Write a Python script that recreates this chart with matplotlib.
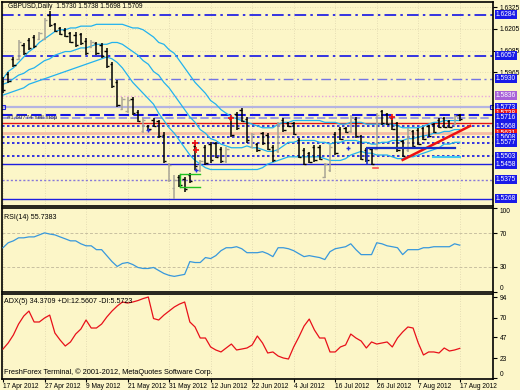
import numpy as np
import matplotlib
matplotlib.use('Agg')
import matplotlib.pyplot as plt
from matplotlib import transforms, font_manager

installed = {f.name for f in font_manager.fontManager.ttflist}
if 'Liberation Sans Narrow' in installed:
    plt.rcParams['font.family'] = ['Liberation Sans Narrow', 'DejaVu Sans']
    fs = 1.0
else:
    plt.rcParams['font.family'] = ['Liberation Sans', 'DejaVu Sans']
    fs = 0.85

# GBPUSD daily, 17 Apr 2012 .. 17 Aug 2012
opens = [1.5920, 1.5955, 1.6040, 1.6040, 1.6118, 1.6145, 1.6160, 1.6150, 1.6150, 1.6280,
         1.6230, 1.6208, 1.6200, 1.6180, 1.6170, 1.6175, 1.6140, 1.6105, 1.6125, 1.6115,
         1.6085, 1.6010, 1.5910, 1.5765, 1.5750, 1.5820, 1.5745, 1.5640, 1.5670, 1.5705,
         1.5695, 1.5620, 1.5370, 1.5330, 1.5390, 1.5380, 1.5400, 1.5560, 1.5425, 1.5555,
         1.5570, 1.5575, 1.5545, 1.5475, 1.5710, 1.5735, 1.5760, 1.5710, 1.5555, 1.5570,
         1.5630, 1.5620, 1.5555, 1.5530, 1.5705, 1.5688, 1.5685, 1.5595, 1.5540, 1.5520,
         1.5555, 1.5555, 1.5390, 1.5430, 1.5625, 1.5655, 1.5658, 1.5640, 1.5710, 1.5612,
         1.5540, 1.5545, 1.5545, 1.5750, 1.5735, 1.5712, 1.5685, 1.5585, 1.5535, 1.5640,
         1.5650, 1.5658, 1.5668, 1.5680, 1.5705, 1.5712, 1.5698, 1.5680, 1.5730]
highs = [1.5940, 1.5967, 1.6050, 1.6143, 1.6127, 1.6154, 1.6171, 1.6187, 1.6264, 1.6301,
         1.6237, 1.6215, 1.6209, 1.6187, 1.6187, 1.6182, 1.6154, 1.6143, 1.6132, 1.6127,
         1.6099, 1.6022, 1.5923, 1.5829, 1.5829, 1.5829, 1.5758, 1.5714, 1.5675, 1.5714,
         1.5703, 1.5637, 1.5466, 1.5400, 1.5400, 1.5389, 1.5411, 1.5582, 1.5483, 1.5565,
         1.5582, 1.5582, 1.5554, 1.5554, 1.5719, 1.5747, 1.5769, 1.5719, 1.5631, 1.5576,
         1.5637, 1.5631, 1.5565, 1.5692, 1.5714, 1.5692, 1.5692, 1.5604, 1.5549, 1.5527,
         1.5565, 1.5565, 1.5466, 1.5565, 1.5637, 1.5664, 1.5664, 1.5730, 1.5719, 1.5620,
         1.5549, 1.5554, 1.5741, 1.5758, 1.5741, 1.5719, 1.5692, 1.5593, 1.5659, 1.5648,
         1.5659, 1.5664, 1.5675, 1.5687, 1.5714, 1.5719, 1.5703, 1.5730, 1.5738]
lows = [1.5851, 1.5906, 1.5995, 1.6033, 1.6061, 1.6088, 1.6099, 1.6143, 1.6143, 1.6215,
        1.6187, 1.6171, 1.6160, 1.6127, 1.6105, 1.6116, 1.6061, 1.6099, 1.6061, 1.6044,
        1.5989, 1.5879, 1.5774, 1.5758, 1.5741, 1.5730, 1.5692, 1.5631, 1.5648, 1.5664,
        1.5604, 1.5466, 1.5361, 1.5268, 1.5334, 1.5306, 1.5356, 1.5427, 1.5416, 1.5455,
        1.5466, 1.5494, 1.5466, 1.5466, 1.5609, 1.5648, 1.5692, 1.5576, 1.5549, 1.5527,
        1.5565, 1.5538, 1.5472, 1.5521, 1.5637, 1.5664, 1.5620, 1.5494, 1.5455, 1.5466,
        1.5472, 1.5483, 1.5383, 1.5416, 1.5510, 1.5593, 1.5631, 1.5631, 1.5604, 1.5483,
        1.5472, 1.5455, 1.5538, 1.5675, 1.5675, 1.5648, 1.5527, 1.5499, 1.5527, 1.5554,
        1.5565, 1.5593, 1.5609, 1.5631, 1.5659, 1.5659, 1.5659, 1.5675, 1.5698]
closes = [1.5868, 1.5915, 1.6005, 1.6130, 1.6070, 1.6100, 1.6110, 1.6180, 1.6255, 1.6225,
          1.6195, 1.6178, 1.6165, 1.6135, 1.6115, 1.6125, 1.6070, 1.6135, 1.6070, 1.6055,
          1.6000, 1.5890, 1.5785, 1.5820, 1.5815, 1.5740, 1.5700, 1.5705, 1.5655, 1.5670,
          1.5612, 1.5475, 1.5455, 1.5375, 1.5345, 1.5320, 1.5365, 1.5450, 1.5475, 1.5465,
          1.5480, 1.5500, 1.5475, 1.5545, 1.5620, 1.5660, 1.5700, 1.5590, 1.5625, 1.5535,
          1.5575, 1.5545, 1.5480, 1.5680, 1.5645, 1.5668, 1.5628, 1.5500, 1.5462, 1.5472,
          1.5480, 1.5490, 1.5460, 1.5555, 1.5520, 1.5600, 1.5636, 1.5720, 1.5612, 1.5490,
          1.5480, 1.5462, 1.5730, 1.5685, 1.5680, 1.5655, 1.5535, 1.5505, 1.5650, 1.5560,
          1.5572, 1.5600, 1.5615, 1.5636, 1.5665, 1.5665, 1.5665, 1.5725, 1.5709]

bb_upper = [1.593, 1.597, 1.599, 1.602, 1.605, 1.608, 1.610, 1.613, 1.615, 1.617,
            1.619, 1.620, 1.620, 1.621, 1.621, 1.622, 1.622, 1.622, 1.623, 1.623,
            1.623, 1.623, 1.623, 1.623, 1.622, 1.621, 1.621, 1.620, 1.618, 1.616,
            1.613, 1.612, 1.609, 1.607, 1.603, 1.599, 1.595, 1.591, 1.588, 1.585,
            1.581, 1.579, 1.576, 1.574, 1.572, 1.571, 1.570, 1.569, 1.568, 1.567,
            1.566, 1.566, 1.566, 1.568, 1.569, 1.569, 1.570, 1.570, 1.570, 1.570,
            1.570, 1.570, 1.569, 1.569, 1.569, 1.568, 1.568, 1.569, 1.569, 1.569,
            1.568, 1.568, 1.568, 1.568, 1.568, 1.568, 1.567, 1.566, 1.566, 1.566,
            1.566, 1.567, 1.568, 1.569, 1.569, 1.570, 1.570, 1.570, 1.570]
bb_middle = [1.590, 1.591, 1.593, 1.595, 1.596, 1.598, 1.599, 1.601, 1.603, 1.604,
             1.606, 1.607, 1.608, 1.608, 1.609, 1.610, 1.610, 1.611, 1.612, 1.612,
             1.612, 1.613, 1.613, 1.612, 1.610, 1.608, 1.606, 1.603, 1.601, 1.597,
             1.595, 1.591, 1.588, 1.584, 1.580, 1.576, 1.572, 1.569, 1.565, 1.563,
             1.560, 1.559, 1.557, 1.556, 1.555, 1.555, 1.555, 1.556, 1.555, 1.555,
             1.554, 1.553, 1.553, 1.554, 1.556, 1.558, 1.558, 1.559, 1.559, 1.559,
             1.559, 1.558, 1.558, 1.557, 1.558, 1.558, 1.559, 1.559, 1.559, 1.558,
             1.558, 1.557, 1.557, 1.558, 1.558, 1.559, 1.559, 1.559, 1.560, 1.560,
             1.561, 1.5615, 1.562, 1.563, 1.563, 1.564, 1.564, 1.565, 1.565]
bb_lower = [1.584, 1.585, 1.586, 1.587, 1.588, 1.590, 1.591, 1.592, 1.593, 1.594,
            1.595, 1.596, 1.597, 1.598, 1.599, 1.600, 1.601, 1.602, 1.603, 1.604,
            1.605, 1.604, 1.602, 1.599, 1.595, 1.591, 1.588, 1.585, 1.582, 1.579,
            1.574, 1.570, 1.566, 1.563, 1.559, 1.555, 1.551, 1.548, 1.546, 1.544,
            1.543, 1.543, 1.543, 1.543, 1.543, 1.543, 1.543, 1.543, 1.543, 1.543,
            1.544, 1.546, 1.547, 1.548, 1.549, 1.550, 1.550, 1.550, 1.550, 1.550,
            1.550, 1.550, 1.549, 1.548, 1.548, 1.548, 1.549, 1.551, 1.552, 1.553,
            1.552, 1.552, 1.551, 1.551, 1.551, 1.550, 1.549, 1.549, 1.550, 1.550,
            1.551, 1.552, 1.553, 1.554, 1.555, 1.557, 1.557, 1.558, 1.558]

rsi = [52.7, 58.6, 60.9, 64.5, 64.5, 65.6, 65.6, 68.0, 70.4, 69.0,
       68.0, 65.6, 63.3, 60.9, 60.9, 57.4, 55.0, 55.0, 50.4, 50.4,
       43.3, 36.2, 30.4, 34.0, 35.1, 32.7, 29.2, 28.0, 28.0, 29.2,
       25.6, 22.1, 19.8, 18.6, 19.8, 21.0, 36.2, 35.1, 35.1, 41.0,
       39.8, 43.3, 49.2, 52.7, 52.7, 53.9, 51.5, 46.8, 46.8, 46.8,
       48.0, 45.6, 42.1, 52.7, 52.7, 51.5, 49.2, 45.6, 42.1, 43.3,
       42.1, 41.0, 38.6, 48.0, 51.5, 52.7, 53.9, 57.4, 50.4, 44.5,
       44.5, 44.5, 58.6, 57.4, 55.0, 53.9, 52.7, 44.5, 50.4, 50.4,
       50.4, 52.7, 52.7, 53.9, 53.9, 53.9, 53.9, 57.4, 55.74]
adx = [33.6, 40.6, 49.9, 62.6, 71.9, 77.7, 65.0, 65.0, 69.6, 73.0,
       52.2, 44.1, 37.1, 41.8, 51.0, 56.8, 67.3, 58.0, 58.0, 62.6,
       70.8, 77.7, 83.5, 88.2, 87.0, 88.2, 89.9, 92.2, 94.0, 69.0,
       67.3, 73.0, 77.7, 82.4, 85.8, 88.2, 65.0, 59.2, 46.4, 46.4,
       36.0, 32.5, 30.2, 34.8, 39.4, 32.5, 33.6, 34.8, 38.3, 48.7,
       40.6, 29.0, 30.2, 25.5, 23.2, 22.0, 36.0, 47.6, 60.3, 68.4,
       55.7, 46.4, 46.4, 30.2, 30.2, 36.0, 38.3, 51.0, 46.4, 42.9,
       34.8, 41.8, 39.4, 40.6, 41.8, 36.0, 46.4, 53.4, 59.2, 58.0,
       40.6, 26.7, 30.2, 30.2, 29.0, 34.8, 31.3, 32.5, 34.37]

date_pos = [0, 8, 16, 24, 32, 40, 48, 56, 64, 72, 80, 88]
date_labels = ['17 Apr 2012', '27 Apr 2012', '9 May 2012', '21 May 2012', '31 May 2012',
               '12 Jun 2012', '22 Jun 2012', '4 Jul 2012', '16 Jul 2012', '26 Jul 2012',
               '7 Aug 2012', '17 Aug 2012']

# horizontal levels drawn on the chart
level_prices = [1.6284, 1.6057, 1.5930, 1.5836, 1.5773, 1.5733, 1.5716, 1.5687,
                1.5668, 1.5631, 1.5608, 1.5577, 1.5503, 1.5458, 1.5375, 1.5268]
level_styles = [('#1414e6', (0, (7, 2.5, 1.5, 2.5)), 1.2),
                ('#1414e6', (0, (7, 2.5, 1.5, 2.5)), 1.2),
                ('#7474e4', (0, (7, 2.5, 1.5, 2.5)), 1.0),
                ('#e8a8dc', (0, (1, 1.5)), 1.0),
                ('#b4b4e2', '-', 1.6),
                ('#1414e6', (0, (5, 2)), 1.5),
                ('#8c8ce6', (0, (5, 2)), 1.2),
                ('#e01414', '-', 1.0),
                ('#1414e6', (0, (1.5, 1.5)), 1.2),
                ('#f6bca4', '-', 2.0),
                ('#1414e6', (0, (1.5, 1.5)), 1.2),
                ('#1414e6', (0, (1.5, 1.5)), 1.2),
                ('#1414e6', (0, (1.5, 1.5)), 1.2),
                ('#1e1ee0', '-', 1.0),
                ('#8878d8', (0, (1.5, 1.5)), 1.0),
                ('#1e1ee0', '-', 1.0)]

# price scale labels
tick_prices = [1.6325, 1.6205, 1.6085, 1.5965]
box_prices = [1.6284, 1.6057, 1.5930, 1.5836, 1.5773, 1.5738, 1.5716, 1.5668,
              1.5631, 1.5608, 1.5577, 1.5503, 1.5458, 1.5375, 1.5268]
box_colors = ['#1a1ae8', '#1a1ae8', '#1a1ae8', '#a860d8', '#1a1ae8', '#e81414', '#1a1ae8',
              '#1a1ae8', '#e81414', '#1a1ae8', '#1a1ae8', '#1a1ae8', '#1a1ae8', '#1a1ae8',
              '#1a1ae8']

# drawn objects
trend_x, trend_y = [77, 90], [1.5483, 1.5670]
green_box_x, green_box_y = [34.1, 38], [1.5405, 1.5334]
blue_seg_x, blue_seg_y = [70.1, 87.1], [1.5549, 1.5460]
cyan_seg_x, cyan_seg_y = [82.9, 88], 1.5499
red_mark_x, red_mark_y = [37, 37.2, 44, 75], [1.5575, 1.5540, 1.5714, 1.5719]
blue_mark_x, blue_mark_y = [28, 37.2, 66.5], [1.5648, 1.5430, 1.5549]

W, H = 520, 390
bg = '#fcf6c8'
grid_c = '#ddd5ae'
fig = plt.figure(figsize=(W / 100, H / 100), dpi=100)
fig.patch.set_facecolor(bg)


def px_axes(x0, y0, x1, y1):
    return fig.add_axes([x0 / W, 1 - y1 / H, (x1 - x0) / W, (y1 - y0) / H])


ax = px_axes(2, 2, 493, 206)
ax_rsi = px_axes(2, 208, 493, 292)
ax_adx = px_axes(2, 294, 493, 379)

x = np.arange(len(opens))
o, h, l, c = map(np.array, (opens, highs, lows, closes))

for a in (ax, ax_rsi, ax_adx):
    a.set_facecolor(bg)
    a.set_xlim(-0.19, 94.4)
    for s in a.spines.values():
        s.set_color('black')
        s.set_linewidth(1.2)
    a.yaxis.tick_right()
    a.tick_params(axis='y', length=3, pad=2, labelsize=5.6 * fs, width=0.8)
    for p in date_pos:
        a.axvline(p, color=grid_c, lw=0.6, ls=(0, (1, 2)), zorder=0)

# ---- price panel
ax.set_ylim(1.5229, 1.6353)
ax.set_xticks([])
ax.set_yticks(tick_prices)
ax.set_yticklabels(['%.4f' % p for p in tick_prices])
for p in tick_prices:
    ax.axhline(p, color=grid_c, lw=0.6, ls=(0, (1, 2)), zorder=0)

for p, (col, ls, lw) in zip(level_prices, level_styles):
    ax.axhline(p, color=col, ls=ls, lw=lw, zorder=1)
ax.plot([0, 94.2], [1.5773, 1.5773], ls='none', marker='s', ms=3, mfc='none',
        mec='#2020e0', mew=0.8, zorder=2)
ax.text(0.8, 1.5716, '#1,60774 sell stop', fontsize=5.2 * fs, color='#404040',
        va='center', zorder=6)

ax.plot(x, bb_upper, color='#22b2ee', lw=0.9, zorder=2)
ax.plot(x, bb_middle, color='#22b2ee', lw=0.9, zorder=2)
ax.plot(x, bb_lower, color='#22b2ee', lw=0.9, zorder=2)

ax.plot(trend_x, trend_y, color='#ee1010', lw=1.8, zorder=4)
ax.plot([green_box_x[0], green_box_x[1]], [green_box_y[0]] * 2, color='#20c020', lw=1, zorder=4)
ax.plot([green_box_x[0], green_box_x[1]], [green_box_y[1]] * 2, color='#20c020', lw=1, zorder=4)
ax.plot([green_box_x[0]] * 2, green_box_y, color='#20c020', lw=1, zorder=4)
ax.plot(blue_seg_x, [blue_seg_y[0]] * 2, color='#1830c8', lw=1.6, zorder=4)
ax.plot([blue_seg_x[0]] * 2, blue_seg_y, color='#1830c8', lw=1.2, zorder=4)
ax.plot(cyan_seg_x, [cyan_seg_y] * 2, color='#40c8f0', lw=1.5, zorder=4)
ax.plot([71.2, 72.2], [1.5438, 1.5438], color='#ff5050', lw=1.2, zorder=4)

up = c > o
bar_col = np.where(up, '#a8a496', '#000000')
ax.vlines(x, l, h, colors=bar_col, lw=1.1, zorder=3)
ax.hlines(o, x - 0.45, x, colors=bar_col, lw=1.0, zorder=3)
ax.hlines(c, x, x + 0.45, colors=bar_col, lw=1.0, zorder=3)

ax.scatter(red_mark_x, red_mark_y, marker='+', s=14, color='#ee1010', lw=1.2, zorder=5)
ax.scatter(blue_mark_x, blue_mark_y, marker='+', s=10, color='#2030e0', lw=1.0, zorder=5)

trans = transforms.blended_transform_factory(ax.transAxes, ax.transData)
for p, col in zip(box_prices, box_colors):
    ax.text(1.006, p, '%.4f' % p, transform=trans, fontsize=5.6 * fs, color='white',
            va='center', ha='left', clip_on=False, zorder=10,
            bbox=dict(boxstyle='square,pad=0.15', fc=col, ec='none'))

fig.text(8 / W, 1 - 7 / H, 'GBPUSD,Daily  1.5730 1.5738 1.5698 1.5709', fontsize=5.6 * fs,
         va='center', ha='left')

# ---- RSI panel
ax_rsi.set_ylim(0, 100)
ax_rsi.set_xticks([])
ax_rsi.set_yticks([0, 30, 70, 100])
ax_rsi.set_yticklabels(['0', '30', '70', '100'])
ax_rsi.get_yticklabels()[0].set_va('bottom')
ax_rsi.get_yticklabels()[3].set_va('top')
for lev in (30, 70):
    ax_rsi.axhline(lev, color='#c8c0a0', lw=0.7, ls=(0, (3, 2)), zorder=1)
ax_rsi.plot(x, rsi, color='#3898dc', lw=0.9, zorder=3)
ax_rsi.text(0.005, 0.93, 'RSI(14) 55.7383', transform=ax_rsi.transAxes, fontsize=6 * fs,
            va='top', ha='left')

# ---- ADX panel
ax_adx.set_ylim(-1.2, 97.5)
ax_adx.set_yticks([0, 23, 47, 70, 94])
ax_adx.set_yticklabels(['0', '23', '47', '70', '94'])
ax_adx.get_yticklabels()[0].set_va('bottom')
ax_adx.plot(x, adx, color='#e8101a', lw=0.9, zorder=3)
ax_adx.text(0.005, 0.95, 'ADX(5) 34.3709 +DI:12.5607 -DI:5.5723', transform=ax_adx.transAxes,
            fontsize=6 * fs, va='top', ha='left')
ax_adx.text(0.005, 0.03, 'FreshForex Terminal, \u00a9 2001-2012, MetaQuotes Software Corp.',
            transform=ax_adx.transAxes, fontsize=6.3 * fs, va='bottom', ha='left')
ax_adx.set_xticks(date_pos)
ax_adx.set_xticklabels(date_labels, fontsize=5.6 * fs, ha='left')
ax_adx.tick_params(axis='x', length=2.5, pad=0.5, width=0.8)

fig.savefig('out.png', dpi=100, facecolor=bg)
